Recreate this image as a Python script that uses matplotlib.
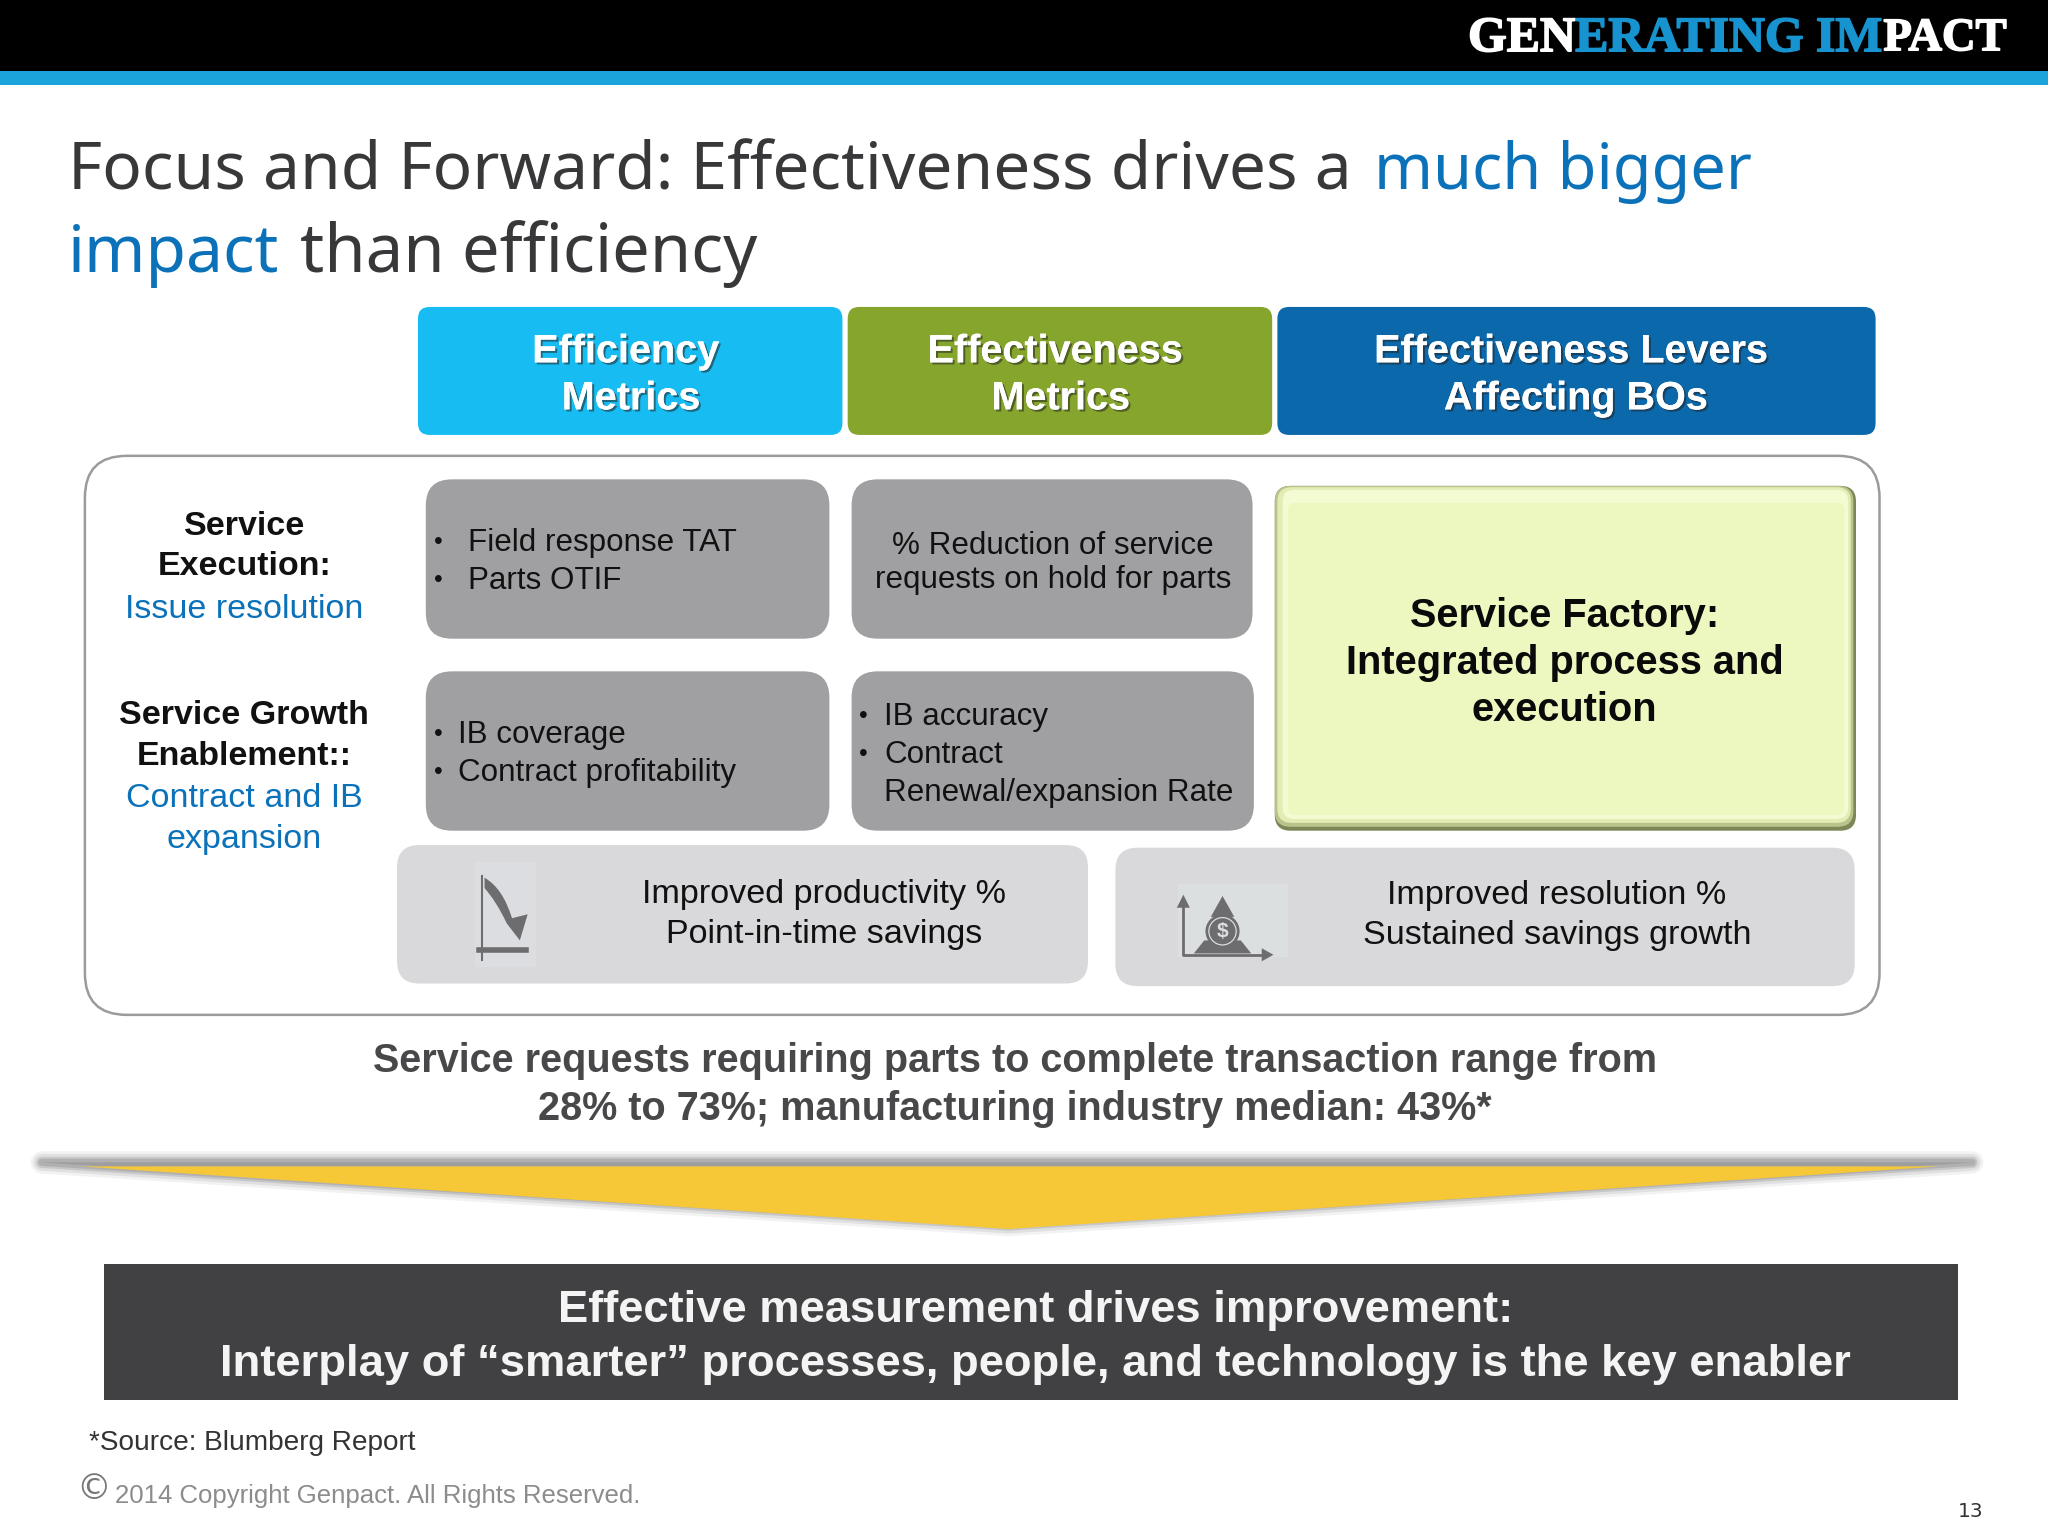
import matplotlib
matplotlib.use("Agg")
import matplotlib.pyplot as plt
import matplotlib.patheffects as pe
from matplotlib.patches import FancyBboxPatch, Polygon, Rectangle, Circle, PathPatch
from matplotlib.path import Path

# ---- text content
TITLE_SEGMENTS = [("Focus and Forward: Effectiveness drives a", 52, 130, "#38383a", 47.4),
                  ("much bigger", 1052, 130, "#0b72b9", 45.4),
                  ("impact", 52, 193, "#0b72b9", 47.4),
                  ("than efficiency", 230, 193, "#38383a", 48.2)]
HEADERS = ["Efficiency\n Metrics", "Effectiveness\n Metrics", "Effectiveness Levers\n Affecting BOs"]
HEADER_COLORS = ["#17bdf2", "#86a52c", "#0b68ab"]
ROW1 = ["Service\nExecution:", "Issue resolution"]
ROW2 = ["Service Growth\nEnablement::", "Contract and IB\nexpansion"]
CENTER_NOTE = "Service requests requiring parts to complete transaction range from\n28% to 73%; manufacturing industry median: 43%*"
BANNER = "Effective measurement drives improvement:\nInterplay of \u201csmarter\u201d processes, people, and technology is the key enabler"
FACTORY = "Service Factory:\nIntegrated process and\nexecution"

W, H = 1568, 1176
plt.rcParams["font.family"] = ["Liberation Sans", "DejaVu Sans"]
fig = plt.figure(figsize=(20.48, 15.36), dpi=100)
ax = fig.add_axes([0, 0, 1, 1])
ax.set_xlim(0, W)
ax.set_ylim(H, 0)
ax.axis("off")


def rbox(x0, y0, x1, y1, r, fc, ec="none", lw=0, z=2, **kw):
    p = FancyBboxPatch((x0 + r, y0 + r), x1 - x0 - 2 * r, y1 - y0 - 2 * r,
                       boxstyle=f"round,pad={r},rounding_size={r}",
                       fc=fc, ec=ec, lw=lw, zorder=z, **kw)
    ax.add_patch(p)
    return p


def txt(x, y, s, size, color="#111111", weight="normal", ha="center", va="center", ls=1.2, fam=None, fx=None, z=10):
    kw = {}
    if fam:
        kw["family"] = fam
    t = ax.text(x, y, s, fontsize=size, color=color, fontweight=weight, ha=ha, va=va,
                linespacing=ls, multialignment=ha if ha != "right" else "right", zorder=z, **kw)
    if fx:
        t.set_path_effects(fx)
    return t


# top bars
ax.add_patch(Rectangle((0, 0), W, 54, fc="black", ec="none", zorder=1))
ax.add_patch(Rectangle((0, 54), W, 11, fc="#1ba3dc", ec="none", zorder=1))

# logo
LOGO = [("GEN", 1124, "white", 35.8), ("ERATING IM", 1206, "#1793d0", 35.8), ("PACT", 1442, "white", 33.5)]
for s, x, c, fs in LOGO:
    txt(x, 30, s, fs, c, "bold", ha="left", fam="Liberation Serif",
        fx=[pe.withStroke(linewidth=1.2, foreground=c)])

# title
for s, x, y, c, fs in TITLE_SEGMENTS:
    txt(x, y + 15, s, fs, c, ha="left", va="baseline", fam="Noto Sans", z=10)

# column headers
shadow = [pe.withSimplePatchShadow(offset=(1.5, -1.5), shadow_rgbFace="#222222", alpha=0.55), pe.Normal()]
for (x0, x1, cx), s, c in zip([(320, 645, 479), (649, 974, 808), (978, 1436, 1203)], HEADERS, HEADER_COLORS):
    rbox(x0, 235, x1, 333, 9, c)
    txt(cx, 287, s, 28.5, "white", "bold", ls=1.3, fx=shadow)

# big rounded frame
rbox(65, 349, 1439, 777, 32, "white", "#9b9b9b", 1.8, z=1)

# left labels
txt(187, 418.5, ROW1[0], 24.5, "#111111", "bold", ls=1.4)
txt(187, 467, ROW1[1], 24.5, "#0b72b9")
txt(187, 563.5, ROW2[0], 24.5, "#111111", "bold", ls=1.42)
txt(187, 627, ROW2[1], 24.5, "#0b72b9", ls=1.42)

# gray boxes
GB = "#a0a0a3"
rbox(326, 367, 635, 489, 20, GB)
rbox(652, 367, 959, 489, 20, GB)
rbox(326, 514, 635, 636, 20, GB)
rbox(652, 514, 960, 636, 20, GB)

FS = 22.6
txt(332, 415, "\u2022", 18, ha="left"); txt(358, 416, "Field response TAT", FS, ha="left")
txt(332, 444, "\u2022", 18, ha="left"); txt(358, 445, "Parts OTIF", FS, ha="left")
txt(806, 431, "% Reduction of service\nrequests on hold for parts", FS, ls=1.2)
txt(332, 562, "\u2022", 18, ha="left"); txt(351, 563, "IB coverage", FS, ha="left")
txt(332, 591, "\u2022", 18, ha="left"); txt(351, 592, "Contract profitability", FS, ha="left")
txt(658, 548, "\u2022", 18, ha="left"); txt(677, 549, "IB accuracy", FS, ha="left")
txt(658, 577, "\u2022", 18, ha="left"); txt(677, 578, "Contract", FS, ha="left")
txt(677, 607, "Renewal/expansion Rate", FS, ha="left")

# service factory box (bevelled)
rbox(976, 372, 1421, 636, 12, "#7c8656")
rbox(976, 372, 1419, 633, 12, "#b9c48c", z=3)
rbox(978, 373, 1417, 630, 11, "#e2ecb4", z=4)
rbox(982, 375, 1415, 627, 9, "#f3fbd2", z=5)
rbox(986, 385, 1412, 624, 6, "#edf8c0", z=6)
txt(1198, 507.5, FACTORY, 28.6, "#0a0a0a", "bold", ls=1.31)

# light boxes
LB = "#d9d8da"
rbox(304, 647, 833, 753, 17, LB)
rbox(854, 649, 1420, 755, 17, LB)
txt(631, 700, "Improved productivity %\nPoint-in-time savings", 24.6, ls=1.36)
txt(1192, 701, "Improved resolution %\nSustained savings growth", 24.6, ls=1.36)

# icons
ICON = "#6d6d70"
ax.add_patch(Rectangle((364, 660), 46, 80, fc="#dcdde0", ec="none", zorder=3))
ax.plot([369, 369], [671, 735], color=ICON, lw=1.5, zorder=4)
ax.plot([367, 403], [727, 727], color=ICON, lw=4, zorder=4)
curve = Path([(371, 672), (385, 680), (392, 703), (404, 700), (398, 720), (388, 707), (380, 690), (371, 680), (371, 672)],
             [Path.MOVETO, Path.CURVE3, Path.CURVE3, Path.LINETO, Path.LINETO, Path.LINETO,
              Path.CURVE3, Path.CURVE3, Path.CLOSEPOLY])
ax.add_patch(PathPatch(curve, fc=ICON, ec="none", zorder=4))

ax.add_patch(Rectangle((902, 677), 84, 56, fc="#dcdfe0", ec="none", zorder=3))
ax.plot([906, 906, 970], [690, 731, 731], color=ICON, lw=2, zorder=4)
ax.add_patch(Polygon([(901, 695), (906, 685), (911, 695)], fc=ICON, ec="none", zorder=4))
ax.add_patch(Polygon([(966, 726), (975, 731), (966, 736)], fc=ICON, ec="none", zorder=4))
ax.add_patch(Polygon([(927, 702), (936, 686), (945, 702)], fc=ICON, ec="none", zorder=4))
ax.add_patch(Polygon([(914, 730), (922, 720), (950, 720), (958, 730)], fc=ICON, ec="none", zorder=4))
ax.add_patch(Circle((936, 713), 12, fc="#dcdfe0", ec=ICON, lw=2, zorder=5))
ax.add_patch(Circle((936, 713), 10, fc=ICON, ec="none", zorder=5))
txt(936, 713, "$", 15, "#dddddd", "bold", z=6)

# note
txt(777, 831, CENTER_NOTE, 28.5, "#48484a", "bold", ls=1.33)

# arrow with soft shadow (round-joined layers)
for lw, a in [(16, 0.12), (12, 0.2), (8, 0.35), (5, 0.5)]:
    ax.add_patch(Polygon([(32, 890), (1510, 890), (772, 938)], fc="#9a9a9c", ec="#9a9a9c", lw=lw,
                         alpha=a, joinstyle="round", zorder=2))
ax.add_patch(Polygon([(62, 893), (1485, 893), (772, 941)], fc="#f6c737", ec="none", zorder=3))

# banner
ax.add_patch(Rectangle((80, 968), 1419, 104, fc="#414143", ec="none", zorder=2))
txt(793, 1024, BANNER, 32.7, "#f4f4f4", "bold", ls=1.41)

# footer
txt(68, 1105, "*Source: Blumberg Report", 20.2, "#333333", ha="left")
txt(88, 1145, "2014 Copyright Genpact. All Rights Reserved.", 18.5, "#8c8c8c", ha="left")
txt(72, 1140, "\u00a9", 25, "#777777", fam="DejaVu Sans")
txt(1509, 1157, "13", 14.5, "#333333", fam="DejaVu Sans")

fig.savefig("out.png", dpi=100, facecolor="white")
